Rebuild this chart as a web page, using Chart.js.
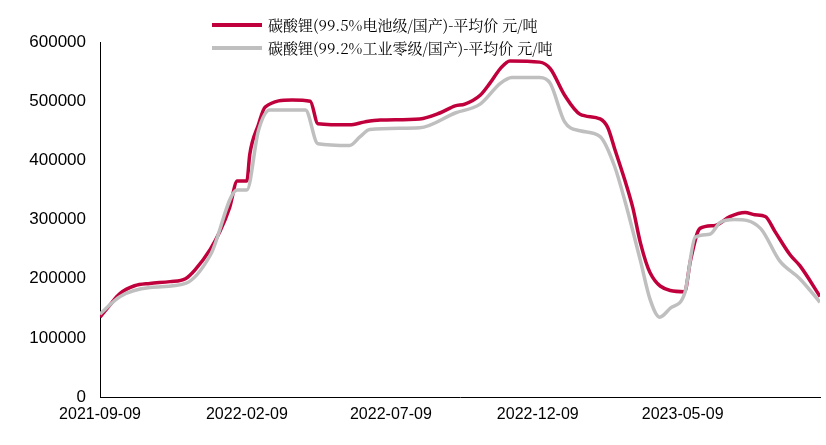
<!DOCTYPE html>
<html>
<head>
<meta charset="utf-8">
<script src="https://cdn.jsdelivr.net/npm/chart.js@4"></script>
<style>
  html, body { margin: 0; padding: 0; background: #fff; }
  #wrap { width: 826px; height: 445px; position: relative; }
</style>
</head>
<body>
<div id="wrap"><canvas id="c"></canvas></div>
<script>
// days since 2021-09-09
const batteryDays = [0, 10, 21, 36, 52, 73, 89, 99, 115, 125, 135, 143, 153, 156, 165, 172, 200, 219, 227, 260, 276, 292, 333, 354, 370, 380, 396, 406, 417, 427, 458, 469, 484, 500, 521, 529, 536, 547, 555, 563, 573, 594, 609, 615, 625, 641, 656, 672, 682, 693, 703, 719, 729, 750];
const batteryPrice = [135000, 155000, 175000, 188000, 192000, 195000, 200000, 215000, 250000, 280000, 320000, 365000, 365000, 410000, 460000, 490000, 502000, 500000, 462000, 460000, 465000, 468000, 470000, 480000, 492000, 495000, 510000, 530000, 555000, 568000, 566000, 555000, 510000, 478000, 470000, 455000, 420000, 365000, 320000, 260000, 210000, 180000, 178000, 230000, 285000, 290000, 305000, 312000, 308000, 305000, 280000, 240000, 222000, 170000];
const industrialDays = [0, 21, 52, 89, 115, 143, 153, 165, 177, 214, 227, 260, 271, 281, 333, 370, 396, 417, 429, 458, 469, 484, 500, 521, 536, 547, 563, 573, 583, 594, 609, 620, 635, 646, 661, 688, 708, 729, 750];
const industrialPrice = [140000, 170000, 185000, 192000, 240000, 350000, 350000, 450000, 485000, 485000, 428000, 425000, 440000, 452000, 455000, 480000, 495000, 530000, 540000, 540000, 530000, 465000, 450000, 440000, 390000, 330000, 230000, 165000, 135000, 150000, 175000, 270000, 275000, 295000, 300000, 285000, 230000, 200000, 160000];
const tickDays = [0, 153, 303, 456, 607];
const tickLabels = ['2021-09-09', '2022-02-09', '2022-07-09', '2022-12-09', '2023-05-09'];
const seriesNames = ['碳酸锂(99.5%电池级/国产)-平均价 元/吨', '碳酸锂(99.2%工业零级/国产)-平均价 元/吨'];
const seriesColors = ['#c0003c', '#bfbfbf'];

const toPts = (xs, ys) => xs.map((x, i) => ({ x, y: ys[i] }));

const legendPlugin = {
  id: 'legendText',
  afterDraw(chart) {
    const ctx = chart.ctx;
    ctx.save();
    ctx.font = '15px "Noto Serif CJK SC", "Noto Sans CJK SC", serif';
    ctx.textBaseline = 'middle';
    seriesNames.forEach((name, i) => {
      const y = 25 + i * 23;
      ctx.strokeStyle = seriesColors[i];
      ctx.lineWidth = 4;
      ctx.beginPath();
      ctx.moveTo(212, y);
      ctx.lineTo(262, y);
      ctx.stroke();
      ctx.fillStyle = '#000';
      ctx.fillText(name, 268, y);
    });
    ctx.restore();
  }
};

new Chart(document.getElementById('c'), {
  type: 'line',
  data: {
    datasets: [
      { label: seriesNames[1], data: toPts(industrialDays, industrialPrice), borderColor: seriesColors[1], borderWidth: 3.5, pointRadius: 0, cubicInterpolationMode: 'monotone' },
      { label: seriesNames[0], data: toPts(batteryDays, batteryPrice), borderColor: seriesColors[0], borderWidth: 3.5, pointRadius: 0, cubicInterpolationMode: 'monotone' },
    ],
  },
  options: {
    responsive: true,
    maintainAspectRatio: false,
    animation: false,
    layout: { padding: { top: 42, right: 6, left: 0, bottom: 0 } },
    plugins: { legend: { display: false }, tooltip: { enabled: false } },
    scales: {
      x: {
        type: 'linear',
        min: 0,
        max: 750,
        afterBuildTicks: axis => { axis.ticks = tickDays.map(v => ({ value: v })); },
        afterFit: axis => { axis.height = 48; },
        grid: { display: false, drawTicks: true, tickLength: 5 },
        border: { color: '#000', width: 1 },
        ticks: {
          color: '#000',
          font: { size: 16, family: 'Liberation Sans, Arial, sans-serif' },
          maxRotation: 0,
          autoSkip: false,
          callback: v => tickLabels[tickDays.indexOf(v)] ?? '',
        },
      },
      y: {
        min: 0,
        max: 600000,
        afterFit: axis => { axis.width = 100; },
        grid: { display: false },
        border: { color: '#000', width: 1 },
        ticks: {
          stepSize: 100000,
          color: '#000',
          font: { size: 17, family: 'Liberation Sans, Arial, sans-serif' },
          padding: 6,
          callback: v => String(v),
        },
      },
    },
  },
  plugins: [legendPlugin],
});
</script>
</body>
</html>
